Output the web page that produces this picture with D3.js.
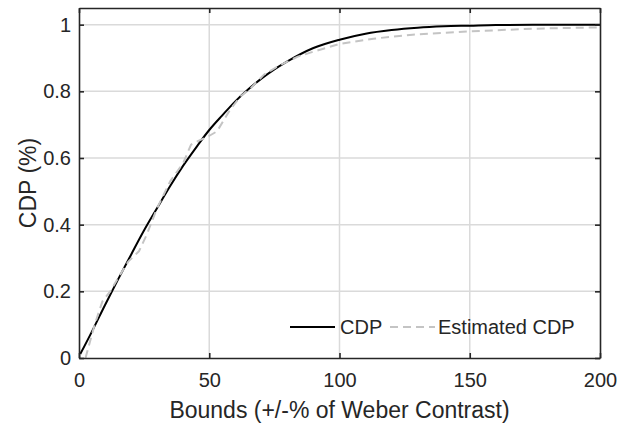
<!DOCTYPE html>
<html>
<head>
<meta charset="utf-8">
<script src="https://cdn.jsdelivr.net/npm/d3@7"></script>
<style>
  body { margin: 0; background: #fff; }
  svg text { font-family: "Liberation Sans", Arial, sans-serif; fill: #262626; }
</style>
</head>
<body>
<div id="chart"></div>
<script>
// values: bound (+/-% of Weber contrast) vs cumulative proportion
const cdpX = [0.5, 5, 10, 15, 20, 25, 30, 35, 40, 45, 50, 55, 60, 65, 70, 75, 80, 90, 100, 110, 120, 130, 140, 150, 160, 180, 200]
const cdpY = [0.012, 0.08, 0.159, 0.236, 0.31, 0.383, 0.45, 0.516, 0.577, 0.632, 0.684, 0.728, 0.77, 0.806, 0.838, 0.866, 0.89, 0.93, 0.955, 0.973, 0.984, 0.991, 0.995, 0.997, 0.999, 1.0, 1.0]

const estX = [2.5, 6, 9, 12, 15, 19, 23, 26, 30, 35, 40, 43, 46, 49, 53, 58, 62, 66, 71, 77, 84, 90, 100, 113, 128, 150, 175, 200]
const estY = [0.0, 0.1, 0.17, 0.2, 0.24, 0.29, 0.32, 0.37, 0.45, 0.53, 0.585, 0.64, 0.652, 0.662, 0.68, 0.745, 0.785, 0.81, 0.85, 0.878, 0.904, 0.919, 0.942, 0.958, 0.97, 0.98, 0.988, 0.992]

const xTicks = [0, 50, 100, 150, 200]
const yTicks = [0, 0.2, 0.4, 0.6, 0.8, 1]
const legendLabels = ["CDP", "Estimated CDP"]

const W = 628, H = 425
const margin = { top: 8, right: 28, bottom: 67, left: 79 }
const width  = W - margin.left - margin.right
const height = H - margin.top - margin.bottom

const svg = d3.select("#chart").append("svg")
  .attr("width", W).attr("height", H)

const g = svg.append("g").attr("transform", `translate(${margin.left},${margin.top})`)

const x = d3.scaleLinear().domain([0, 200]).range([0, width])
const y = d3.scaleLinear().domain([0, 1.05]).range([height, 0])

// grid
g.append("g").selectAll("line")
  .data(xTicks.slice(1, -1)).join("line")
  .attr("x1", d => x(d)).attr("x2", d => x(d))
  .attr("y1", 0).attr("y2", height)
  .attr("stroke", "#dadada").attr("stroke-width", 1.5)

g.append("g").selectAll("line")
  .data(yTicks.slice(1)).join("line")
  .attr("x1", 0).attr("x2", width)
  .attr("y1", d => y(d)).attr("y2", d => y(d))
  .attr("stroke", "#dadada").attr("stroke-width", 1.5)

// curves
g.append("path")
  .datum(cdpX.map((v, i) => [v, cdpY[i]]))
  .attr("fill", "none").attr("stroke", "#000").attr("stroke-width", 2)
  .attr("d", d3.line().x(d => x(d[0])).y(d => y(d[1])).curve(d3.curveMonotoneX))

g.append("path")
  .datum(estX.map((v, i) => [v, estY[i]]))
  .attr("fill", "none").attr("stroke", "#c4c4c4").attr("stroke-width", 2)
  .attr("stroke-dasharray", "8,5")
  .attr("d", d3.line().x(d => x(d[0])).y(d => y(d[1])))

// axes box with inward ticks on all sides
const fmt = d => String(d)
function styleAxis(sel) {
  sel.select(".domain").attr("stroke", "#262626").attr("stroke-width", 1.6)
  sel.selectAll(".tick line").attr("stroke", "#262626").attr("stroke-width", 1.6)
  sel.selectAll(".tick text").style("font-size", "20px").attr("fill", "#262626")
}

g.append("g").attr("transform", `translate(0,${height})`)
  .call(d3.axisBottom(x).tickValues(xTicks).tickFormat(fmt).tickSize(-5).tickSizeOuter(0).tickPadding(15))
  .call(styleAxis)

g.append("g")
  .call(d3.axisLeft(y).tickValues(yTicks).tickFormat(fmt).tickSize(-5).tickSizeOuter(0).tickPadding(8))
  .call(styleAxis)

g.append("g")
  .call(d3.axisTop(x).tickValues(xTicks).tickFormat("").tickSize(-5).tickSizeOuter(0))
  .call(styleAxis)

g.append("g").attr("transform", `translate(${width},0)`)
  .call(d3.axisRight(y).tickValues(yTicks).tickFormat("").tickSize(-5).tickSizeOuter(0))
  .call(styleAxis)

// axis labels
svg.append("text")
  .attr("x", margin.left + width / 2).attr("y", 418)
  .attr("text-anchor", "middle").style("font-size", "23px")
  .text("Bounds (+/-% of Weber Contrast)")

svg.append("text")
  .attr("transform", `translate(36,${margin.top + height / 2}) rotate(-90)`)
  .attr("text-anchor", "middle").style("font-size", "23px")
  .text("CDP (%)")

// legend
const leg = svg.append("g").attr("transform", "translate(290,327)")
leg.append("line").attr("x1", 0).attr("x2", 45).attr("stroke", "#000").attr("stroke-width", 2)
leg.append("text").attr("x", 50).attr("y", 7).style("font-size", "20px").text(legendLabels[0])
leg.append("line").attr("x1", 100).attr("x2", 145).attr("stroke", "#c4c4c4").attr("stroke-width", 2)
  .attr("stroke-dasharray", "8,5")
leg.append("text").attr("x", 148).attr("y", 7).style("font-size", "20px").text(legendLabels[1])
</script>
</body>
</html>
